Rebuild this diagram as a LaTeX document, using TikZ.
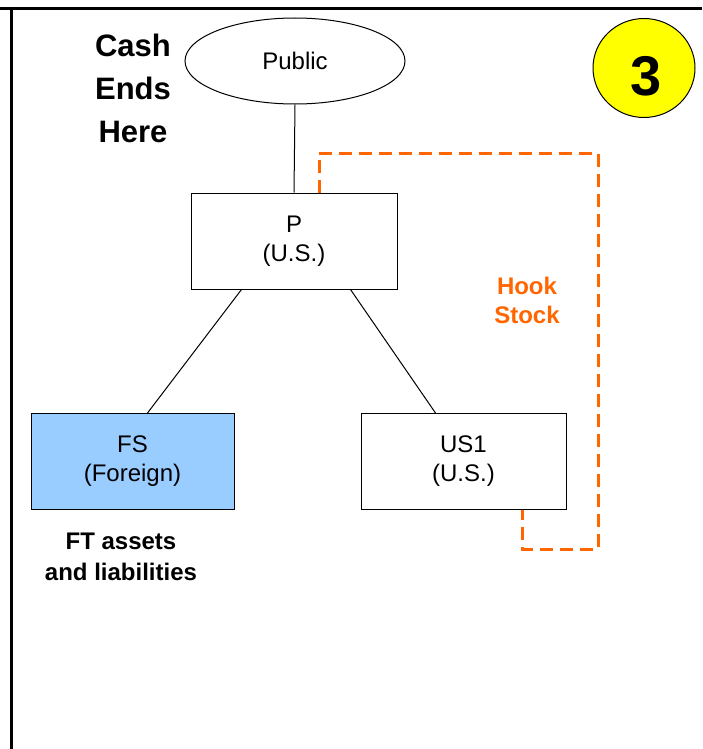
\documentclass[tikz,border=0pt]{standalone}
\usepackage{fontspec}
\setmainfont{Liberation Sans}
\usetikzlibrary{shapes.geometric}
\definecolor{hook}{HTML}{FF6600}
\definecolor{fsblue}{HTML}{99CCFF}
\definecolor{badge}{HTML}{FFFF00}
\begin{document}
\begin{tikzpicture}[x=1pt,y=-1pt,
  ent/.style={draw=black,line width=1pt,minimum width=206pt,minimum height=96pt,align=center,font=\fontsize{24}{29}\selectfont,inner sep=0pt},
  conn/.style={draw=black,line width=1pt},
  hookline/.style={draw=hook,line width=3pt,dash pattern=on 13pt off 7pt},
  bigbold/.style={font=\fontsize{31}{43}\selectfont\bfseries,align=center}]
\useasboundingbox (0,0) rectangle (702,749);
\draw[line width=3pt] (0,9) -- (702,9);
\draw[line width=3pt] (11,9) -- (11,749);
\node[ellipse,draw=black,line width=1pt,minimum width=220pt,minimum height=86pt,inner sep=0pt,font=\fontsize{24}{28}\selectfont] (pub) at (295,61) {Public};
\node[ent] (p) at (294,241) {P\\(U.S.)};
\node[ent,fill=fsblue,minimum width=203pt] (fs) at (132.5,461.5) {FS\\(Foreign)};
\node[ent,minimum width=205pt] (us1) at (463.5,461.5) {US1\\(U.S.)};
\draw[conn] (pub.south) -- (p.north);
\path (p.south west)++(51,0) coordinate (pa) (fs.north west)++(117,0) coordinate (fa);
\draw[conn] (pa) -- (fa);
\path (p.south west)++(160,0) coordinate (pb) (us1.north west)++(75,0) coordinate (ua);
\draw[conn] (pb) -- (ua);
\coordinate (h0) at (319,193);
\coordinate (h1) at (319,153);
\coordinate (h2) at (598,153);
\coordinate (h3) at (598,549);
\coordinate (h4) at (522,549);
\coordinate (h5) at (522,510);
\draw[hookline] (h0) -- (h1) -- (h2) -- (h3) -- (h4) -- (h5);
\node[text=hook,align=center,font=\fontsize{24}{29}\selectfont\bfseries] (hook) at (527,300) {Hook\\Stock};
\node[bigbold] (cash) at (133,88) {Cash\\Ends\\Here};
\node[ellipse,draw=black,line width=1pt,fill=badge,minimum width=102pt,minimum height=99pt,inner sep=0pt] (badge) at (644,68) {};
\node[font=\fontsize{56}{56}\selectfont\bfseries,inner sep=0pt] (three) at (646,76) {3};
\node[align=center,font=\fontsize{24}{31}\selectfont\bfseries] (ft) at (121,557) {FT assets\\and liabilities};
\end{tikzpicture}
\end{document}
